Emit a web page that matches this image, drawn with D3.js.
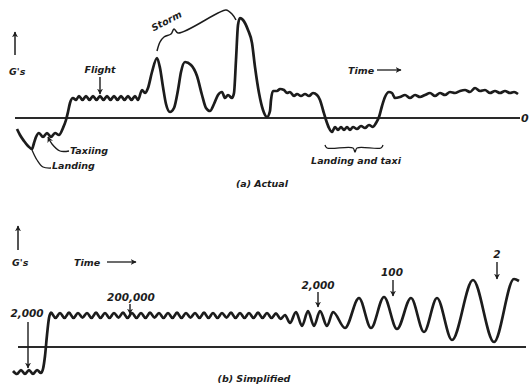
<!DOCTYPE html>
<html>
<head>
<meta charset="utf-8">
<script src="https://cdn.jsdelivr.net/npm/d3@7/dist/d3.min.js"></script>
<style>
  html, body { margin: 0; padding: 0; background: #fff; }
  svg { display: block; }
  .lbl { font-family: "DejaVu Sans", sans-serif; font-weight: bold; font-style: oblique; fill: #1c1c1c; }
</style>
</head>
<body>
<script>
// ---- (a) Actual load history: [time, G] ----
const actualLanding = [[2,-0.55],[5,-0.85],[9,-1.15],[13,-1.4],[17,-1.55]];
const actualTaxi = [[19,-1.25],[21,-0.95],[24,-0.75],[28,-0.95],[32,-0.75],[36,-0.95],[40,-0.75],[44,-0.85],
  [48,-0.5],[51,-0.1],[53,0.3],[55,0.75],[58,1.0]];
const actualFlight = [[61,0.9],[64,1.1],[67.5,0.9],[71,1.1],[74.5,0.9],[78,1.1],[81.5,0.9],[85,1.1],[88.5,0.9],
  [92,1.1],[95.5,0.9],[99,1.1],[102.5,0.9],[106,1.1],[109.5,0.9],[113,1.1],[116.5,0.9],[120,1.1],[123,0.9]];
const actualStorm = [[127,1.4],[130,1.25],[133,1.5],[137,2.3],[142,3.0],[145,2.5],[148,1.55],[151,0.7],[155,0.3],
  [159,0.5],[163,1.4],[166,2.3],[170,2.8],[176,2.65],[182,2.1],[187,1.15],[191,0.5],[195,0.35],[199,0.7],
  [203,1.15],[207,1.3],[210,1.0],[213,1.15],[217,1.0],[219,1.25],[221,2.9],[223,4.65],[225,5.0],[228,4.9],
  [233,4.4],[237,3.75],[240,2.55],[244,1.25],[248,0.4],[252,0.05]];
const actualCruise = [[255,0.35],[256,0.9],[258,1.35],[262,1.35],[265,1.45],[269,1.4],[272,1.25],[275,1.3],
  [279,1.1],[282,1.2],[286,1.1],[290,1.2],[294,1.1],[298,1.25],[302,1.15],[305,0.9],[308,0.4]];
const actualLandingTaxi = [[311,-0.1],[314,-0.5],[317,-0.7],[320,-0.45],[323,-0.6],[326,-0.45],[329,-0.6],
  [332,-0.45],[335,-0.6],[338,-0.45],[342,-0.55],[346,-0.4],[350,-0.5],[354,-0.35],[358,-0.45],[361,-0.25]];
const actualFinal = [[364,0.05],[367,0.6],[370,1.05],[374,1.3],[377,1.25],[380,1.0],[385,1.05],[390,1.15],
  [395,1.0],[400,1.15],[405,1.05],[410,1.15],[415,1.25],[420,1.1],[425,1.25],[430,1.15],[435,1.3],[440,1.25],
  [445,1.35],[450,1.4],[455,1.3],[460,1.5],[465,1.35],[470,1.4],[475,1.25],[480,1.35],[485,1.25],[490,1.35],
  [495,1.25],[499,1.3],[503,1.2]];

// ---- (b) Simplified load spectrum: [time, G] ----
const simplifiedGround = [[0,-1.2],[4,-1.35],[8,-1.15],[12,-1.35],[16,-1.15],[20,-1.35],[24,-1.15],[28,-1.3],
  [30,-1.1],[32,-0.45],[34,0.6],[36,1.45],[38,1.72]];
const simplifiedSmall = [[42.5,1.45],[47,1.7],[51.5,1.45],[56,1.72],[60.5,1.45],[65,1.7],[69.5,1.47],[74,1.7],
  [78.5,1.45],[83,1.72],[87.5,1.45],[92,1.7],[96.5,1.45],[101,1.7],[105.5,1.47],[110,1.72],[114.5,1.45],
  [119,1.7],[123.5,1.45],[128,1.7],[132.5,1.45],[137,1.72],[141.5,1.47],[146,1.7],[150.5,1.45],[155,1.7],
  [159.5,1.45],[164,1.72],[168.5,1.45],[173,1.7],[177.5,1.47],[182,1.7],[186.5,1.45],[191,1.72],[195.5,1.45],
  [200,1.7],[204.5,1.45],[209,1.7],[213.5,1.47],[218,1.72],[222.5,1.45],[227,1.7],[231.5,1.45],[236,1.7],
  [240.5,1.45],[245,1.72],[249.5,1.45],[254,1.7],[258.5,1.45],[263,1.68],[267.5,1.4]];
const simplifiedMid = [[272,1.6],[277,1.2],[283,1.75],[289,1.05],[295,1.8],[301,1.05],[307,1.8],[314,1.05],
  [320,1.75],[332,0.95]];
const simplifiedLarge = [[346,2.45],[358,0.95],[371,2.5],[384,0.9],[398,2.45],[411,0.75],[424,2.45],[439,0.35]];
const simplifiedHuge = [[460,3.35],[481,0.25],[501,3.4],[506,3.3]];

// Cycle-count labels of the simplified spectrum
const cycleLabels = ["2,000", "200,000", "2,000", "100", "2"];
const cycleAt = [[15, 14], [117, 118], [305, 305], [380, 379], [484, 484]]; // [arrow time, text time]

const W = 530, H = 387;
const svg = d3.select("body").append("svg").attr("width", W).attr("height", H);

const defs = svg.append("defs");
defs.append("marker").attr("id", "head")
  .attr("viewBox", "0 0 10 10").attr("refX", 9).attr("refY", 5)
  .attr("markerWidth", 6).attr("markerHeight", 6).attr("markerUnits", "userSpaceOnUse")
  .attr("orient", "auto")
  .append("path").attr("d", "M0,0 L10,5 L0,10 L3,5 Z").attr("fill", "#1c1c1c");

const ink = "#1c1c1c";

// scales
const xA = d3.scaleLinear().domain([0, 505]).range([15, 520]);
const yA = d3.scaleLinear().domain([-2, 5.5]).range([158, 8]);
const xB = d3.scaleLinear().domain([0, 512]).range([13, 525]);
const yB = d3.scaleLinear().domain([-1.5, 5]).range([377, 247]);

function lineFor(x, y, curve) {
  return d3.line().x(d => x(d[0])).y(d => y(d[1])).curve(curve || d3.curveMonotoneX);
}
function arrow(g, x1, y1, x2, y2, w) {
  g.append("line").attr("x1", x1).attr("y1", y1).attr("x2", x2).attr("y2", y2)
    .attr("stroke", ink).attr("stroke-width", w || 1.4).attr("marker-end", "url(#head)");
}
function text(g, s, x, y, size, anchor, extra) {
  const t = g.append("text").attr("class", "lbl").attr("x", x).attr("y", y)
    .attr("font-size", size).attr("text-anchor", anchor || "start").text(s);
  if (extra) extra(t);
  return t;
}

// ================= (a) Actual =================
const gA = svg.append("g");
gA.append("line").attr("x1", xA(0)).attr("x2", xA(505)).attr("y1", yA(0)).attr("y2", yA(0))
  .attr("stroke", "#2a2a2a").attr("stroke-width", 1.8);
text(gA, "0", xA(506), yA(-0.2), 11, "start");

const actual = [].concat(actualLanding, actualTaxi, actualFlight, actualStorm, actualCruise, actualLandingTaxi, actualFinal);
gA.append("path").attr("d", lineFor(xA, yA)(actual))
  .attr("fill", "none").attr("stroke", ink).attr("stroke-width", 2.7).attr("stroke-linejoin", "round");

// G's axis arrow
arrow(gA, xA(0), yA(3.15), xA(0), yA(4.3), 1.5);
text(gA, "G's", xA(-6), yA(2.15), 9.5);

// Flight
text(gA, "Flight", xA(85), yA(2.25), 9.5, "middle");
arrow(gA, xA(85), yA(2.05), xA(85), yA(1.2));

// Storm brace
const storm = [[142,3.35],[145,3.8],[149,4.05],[156,4.2],[159,4.45],[163,4.25],[203,5.25],[211,5.4],[217,5.2],[221,4.9]];
gA.append("path").attr("d", lineFor(xA, yA, d3.curveCatmullRom)(storm))
  .attr("fill", "none").attr("stroke", ink).attr("stroke-width", 1.5);
text(gA, "Storm", xA(153), yA(4.7), 9.5, "middle",
  t => t.attr("transform", `rotate(-27 ${xA(153)} ${yA(4.7)})`));

// Time arrow
text(gA, "Time", xA(333), yA(2.2), 9.5);
arrow(gA, xA(362), yA(2.4), xA(386), yA(2.4), 1.3);

// Taxiing and landing leaders
const taxiLeader = [[54,-1.65],[45,-1.65],[37,-1.3],[33,-0.95]];
gA.append("path").attr("d", lineFor(xA, yA, d3.curveCatmullRom)(taxiLeader))
  .attr("fill", "none").attr("stroke", ink).attr("stroke-width", 1.3).attr("marker-end", "url(#head)");
text(gA, "Taxiing", xA(55), yA(-1.8), 9.5);
const landLeader = [[17,-1.6],[22,-2.1],[28,-2.45],[36,-2.5]];
gA.append("path").attr("d", lineFor(xA, yA, d3.curveCatmullRom)(landLeader))
  .attr("fill", "none").attr("stroke", ink).attr("stroke-width", 1.3);
text(gA, "Landing", xA(37), yA(-2.55), 9.5);

// Landing and taxi brace
const ltBrace = [[310,-1.35],[312,-1.5],[338,-1.5],[340,-1.7],[342,-1.5],[366,-1.5],[368,-1.35]];
gA.append("path").attr("d", lineFor(xA, yA, d3.curveCatmullRom)(ltBrace))
  .attr("fill", "none").attr("stroke", ink).attr("stroke-width", 1.3);
text(gA, "Landing and taxi", xA(341), yA(-2.3), 9.5, "middle");

text(gA, "(a) Actual", xA(247), yA(-3.45), 9.5, "middle");

// ================= (b) Simplified =================
const gB = svg.append("g");
gB.append("line").attr("x1", xB(5)).attr("x2", xB(513)).attr("y1", yB(0)).attr("y2", yB(0))
  .attr("stroke", "#2a2a2a").attr("stroke-width", 1.8);

const simplified = [].concat(simplifiedGround, simplifiedSmall, simplifiedMid, simplifiedLarge, simplifiedHuge);
gB.append("path").attr("d", lineFor(xB, yB)(simplified))
  .attr("fill", "none").attr("stroke", ink).attr("stroke-width", 2.7).attr("stroke-linejoin", "round");

arrow(gB, xB(5), yB(4.85), xB(5), yB(6.05), 1.5);
text(gB, "G's", xB(-1), yB(4.05), 9.5);
text(gB, "Time", xB(61), yB(4.05), 9.5);
arrow(gB, xB(94), yB(4.25), xB(123), yB(4.25), 1.3);

// cycle-count labels with pointers to the curve
const labelG = [1.5, 2.3, 2.9, 3.55, 4.45];
const arrowFrom = [1.25, 2.15, 2.75, 3.35, 4.25];
const arrowTo = [-1.05, 1.65, 2.0, 2.55, 3.4];
cycleLabels.forEach((s, i) => {
  text(gB, s, xB(cycleAt[i][1]), yB(labelG[i]), 10.5, "middle");
  arrow(gB, xB(cycleAt[i][0]), yB(arrowFrom[i]), xB(cycleAt[i][0]), yB(arrowTo[i]));
});

text(gB, "(b) Simplified", xB(241), yB(-1.75), 9.5, "middle");
</script>
</body>
</html>
